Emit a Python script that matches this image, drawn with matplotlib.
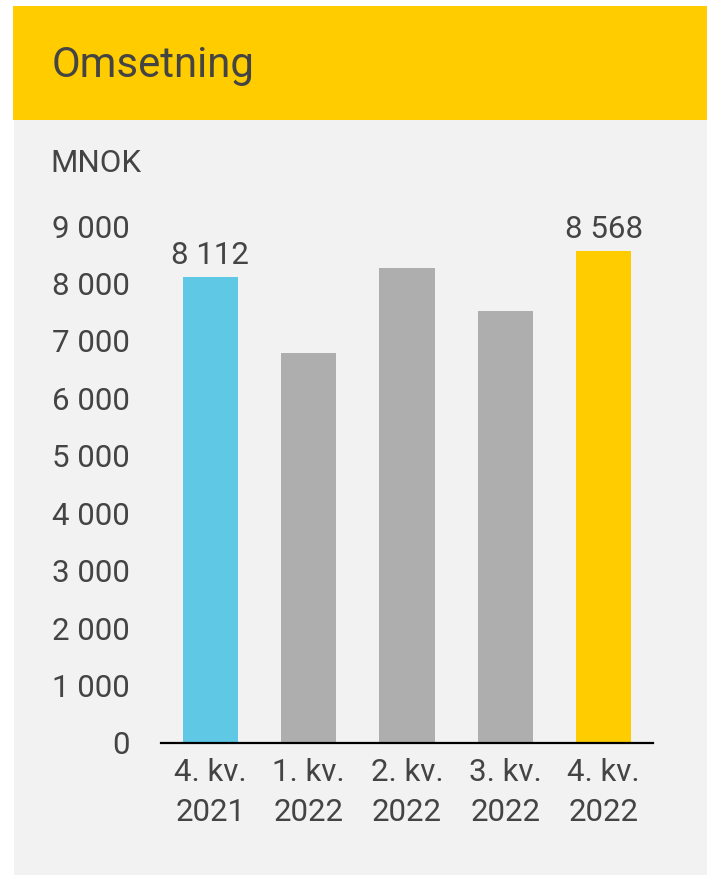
import matplotlib.pyplot as plt
from matplotlib.patches import Rectangle

quarters = ["4. kv.\n2021", "1. kv.\n2022", "2. kv.\n2022", "3. kv.\n2022", "4. kv.\n2022"]
revenue = [8112, 6790, 8275, 7520, 8568]
bar_colors = ["#5EC8E5", "#AEAEAE", "#AEAEAE", "#AEAEAE", "#FFCC00"]
labelled = {0: "8 112", 4: "8 568"}
yticks = [0, 1000, 2000, 3000, 4000, 5000, 6000, 7000, 8000, 9000]

plt.rcParams['font.family'] = ['Roboto', 'DejaVu Sans']
txt = "#444444"
W, H = 707, 875

fig = plt.figure(figsize=(W/100, H/100), dpi=100)
fig.patch.set_facecolor("white")

# panel backgrounds (pixel coords -> figure fraction), behind the axes
fig.patches.append(Rectangle((14/W, 0), 1-14/W, 1-120/H, transform=fig.transFigure,
                             facecolor="#F2F2F2", edgecolor="none", zorder=-2))
fig.patches.append(Rectangle((13/W, 1-120/H), 1-13/W, (120-6)/H, transform=fig.transFigure,
                             facecolor="#FFCC00", edgecolor="none", zorder=-2))
fig.text(52/W, 1-65/H, "Omsetning", fontsize=30.2, color=txt, va="center", ha="left")
fig.text(50/W, 1-164/H, "MNOK", fontsize=22.5, color=txt, va="center", ha="left")

ax = fig.add_axes([161/W, 1-743/H, (653-161)/W, (743-226)/H])
ax.set_facecolor("none")
x = range(len(quarters))
ax.bar(x, revenue, width=0.56, color=bar_colors, zorder=2)
for i, s in labelled.items():
    ax.annotate(s, (i, revenue[i]), xytext=(0, 5), textcoords="offset points",
                ha="center", va="bottom", fontsize=22.5, color=txt)

ax.set_xlim(-0.5, 4.5)
ax.set_ylim(0, 9000)
ax.set_yticks(yticks)
ax.set_yticklabels([f"{v:,}".replace(",", " ") for v in yticks])
ax.set_xticks(list(x))
ax.set_xticklabels(quarters, linespacing=1.46)
ax.tick_params(axis="y", length=0, pad=22.3, labelsize=22.5, labelcolor=txt)
ax.tick_params(axis="x", length=0, pad=11, labelsize=22.5, labelcolor=txt)
for sp in ["top", "right", "left"]:
    ax.spines[sp].set_visible(False)
ax.spines["bottom"].set_linewidth(1.6)
ax.spines["bottom"].set_color("black")
ax.spines["bottom"].set_zorder(3)

fig.savefig("out.png", dpi=100)
